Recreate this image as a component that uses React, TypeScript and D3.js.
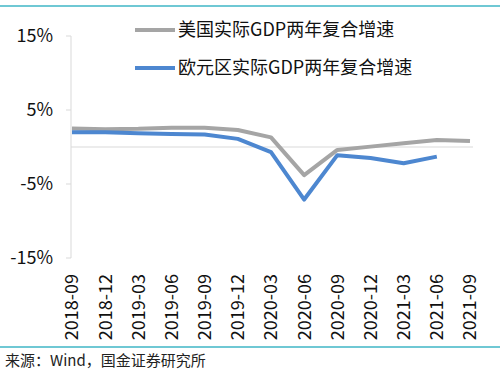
import React from "react";
import * as d3 from "d3";

// quarterly data, two-year compound real GDP growth (%)
const quarters = [
  "2018-09", "2018-12", "2019-03", "2019-06", "2019-09", "2019-12", "2020-03",
  "2020-06", "2020-09", "2020-12", "2021-03", "2021-06", "2021-09",
];
const usGrowth = [2.5, 2.4, 2.45, 2.6, 2.6, 2.3, 1.3, -3.8, -0.4, 0.05, 0.5, 0.95, 0.8];
const euroGrowth = [2.0, 2.0, 1.85, 1.75, 1.7, 1.1, -0.7, -7.1, -1.1, -1.5, -2.2, -1.3, null];
const yTicks = [15, 5, -5, -15];
const seriesNames = ["美国实际GDP两年复合增速", "欧元区实际GDP两年复合增速"];
const seriesColors = ["#a5a5a5", "#4d87d0"];

const W = 503;
const H = 374;
const cjk = "'Noto Sans CJK SC', 'Noto Sans', sans-serif";

const App = () => {
  const x = d3.scalePoint<string>().domain(quarters).range([72, 470]);
  const y = d3.scaleLinear().domain([-15, 15]).range([258, 36]);

  const line = d3
    .line<number | null>()
    .defined((d) => d !== null)
    .x((_, i) => x(quarters[i]) as number)
    .y((d) => y(d as number));

  const series = [usGrowth, euroGrowth];

  return (
    <svg
      width={W}
      height={H}
      style={{ position: "absolute", left: 0, top: 0, background: "#fff" }}
      fontFamily={cjk}
    >
      <line x1={0} x2={500} y1={6} y2={6} stroke="#3fb6c6" strokeWidth={1.5} />
      <line x1={0} x2={500} y1={347} y2={347} stroke="#3fb6c6" strokeWidth={1.5} />

      {/* y axis */}
      <line x1={71} x2={71} y1={y(15)} y2={y(-15)} stroke="#d9d9d9" strokeWidth={1} />
      {yTicks.map((t) => (
        <g key={t}>
          <line x1={66} x2={71} y1={y(t)} y2={y(t)} stroke="#d9d9d9" />
          <text x={53} y={y(t)} dy="0.36em" textAnchor="end" fontSize={18} fill="#111">
            {t}%
          </text>
        </g>
      ))}
      <line x1={71} x2={473} y1={y(0)} y2={y(0)} stroke="#d9d9d9" strokeWidth={1.2} />

      {/* x labels */}
      {quarters.map((q) => (
        <text
          key={q}
          transform={`translate(${x(q)},274) rotate(-90)`}
          textAnchor="end"
          dy="0.36em"
          fontSize={18}
          fill="#111"
        >
          {q}
        </text>
      ))}

      {series.map((s, i) => (
        <path
          key={i}
          d={line(s) || ""}
          fill="none"
          stroke={seriesColors[i]}
          strokeWidth={4}
          strokeLinejoin="round"
        />
      ))}

      {/* legend */}
      {seriesNames.map((name, i) => (
        <g key={name} transform={`translate(135,${30 + i * 38})`}>
          <line x1={0} x2={40} y1={0} y2={0} stroke={seriesColors[i]} strokeWidth={4} />
          <text x={43} y={0} dy="0.36em" fontSize={18} fill="#111">
            {name}
          </text>
        </g>
      ))}

      <text x={5} y={366} fontSize={15} fill="#222">
        来源：Wind，国金证券研究所
      </text>
    </svg>
  );
};

export default App;
